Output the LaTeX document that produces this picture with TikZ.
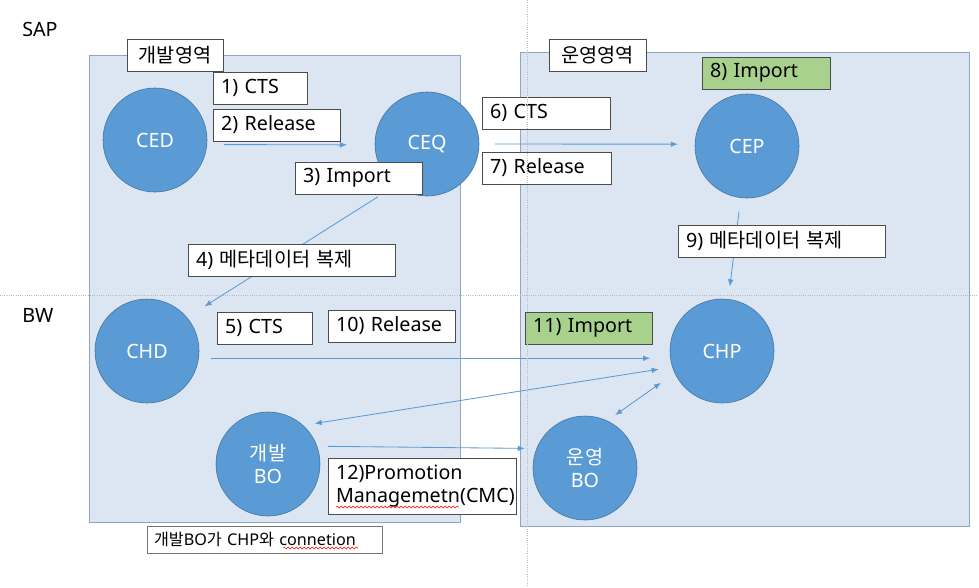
\documentclass[tikz,border=0pt]{standalone}
\usepackage{fontspec}
\setmainfont{Noto Sans}
\newfontfamily\kr{Noto Sans CJK KR}
\usepackage{xcolor}
\usetikzlibrary{arrows.meta,decorations.pathmorphing}
\definecolor{sysblue}{HTML}{5B9BD5}
\definecolor{sysedge}{HTML}{41719C}
\definecolor{zonefill}{HTML}{DCE6F2}
\definecolor{zoneedge}{HTML}{8EA5C4}
\definecolor{importgreen}{HTML}{A9D18E}
\tikzset{
  system/.style={
    shape = circle,
    draw = sysedge,
    fill = sysblue,
    minimum size = 2.6cm,
    inner sep = 0pt,
    outer sep = 0pt,
    text = white,
    align = center,
    font = \fontsize{14}{16}\selectfont
  },
}
\tikzset{
  zone/.style={
    fill = zonefill,
    draw = zoneedge,
    line width = 0.7pt
  },
  tag/.style={
    anchor = north west,
    draw = black!70,
    fill = white,
    inner xsep = 0.2cm,
    inner ysep = 0pt,
    outer sep = 0pt,
    minimum height = 0.8cm,
    align = left,
    font = \fontsize{14}{16.5}\selectfont
  },
  tagok/.style={
    tag,
    fill = importgreen
  },
  zonetitle/.style={
    tag,
    align = center
  },
  flow/.style={
    draw = sysblue,
    line width = 0.6pt,
    -{Latex[length=5pt,width=4pt]}
  },
  flowtwo/.style={
    flow,
    {Latex[length=5pt,width=4pt]}-{Latex[length=5pt,width=4pt]}
  },
  divider/.style={
    gray!55,
    densely dotted,
    line width = 0.6pt
  },
  spell/.style={
    red,
    line width = 0.35pt,
    decorate,
    decoration={snake, amplitude=0.25mm, segment length=1mm}
  }
}

\begin{document}
\begin{tikzpicture}[x=0.025cm, y=-0.025cm]
        \useasboundingbox (0,0) rectangle (979,587);

        % areas
        \draw[zone] (89,55) rectangle (460,522);
        \draw[zone] (520,52) rectangle (969,526);

        \node[font=\fontsize{14}{16}\selectfont] (sap) at (40,29) {SAP};
        \node[font=\fontsize{14}{16}\selectfont] (bw) at (38,315) {BW};

        \node[system] (CED) at (155,140) {CED};
        \node[system] (CEQ) at (427,144) {CEQ};
        \node[system] (CEP) at (747,146) {CEP};
        \node[system] (CHD) at (147,351) {CHD};
        \node[system] (CHP) at (722,351) {CHP};
        \node[system] (devBO) at (268,464) {{\kr 개발}\\BO};
        \node[system] (opBO) at (585,468) {{\kr 운영}\\BO};

        \draw[flow, shorten <=0.43cm, shorten >=0.7cm] (CED.-5) -- (CEQ.181);
        \draw[flow, shorten <=0.4cm, shorten >=0.43cm] (CEQ.0) -- (CEP.178);
        \draw[flow, shorten <=0.525cm, shorten >=0.525cm] (CEQ.233) -- (CHD.40);
        \draw[flow, shorten <=0.35cm, shorten >=0.325cm] (CEP) -- (CHP);
        \draw[flow, shorten <=0.31cm, shorten >=0.51cm] (CHD.-8) -- (CHP.188);
        \draw[flowtwo, shorten <=0.35cm, shorten >=0.3cm] (CHP.198) -- (devBO.48);
        \draw[flowtwo, shorten <=0.425cm, shorten >=0.25cm] (CHP.205) -- (opBO.65);
        \draw[flow, shorten <=0.275cm, shorten >=0.3cm] (devBO.20) -- (opBO.158);

        \node[zonetitle, text width=2.0cm] (devzone) at (127,39) {{\kr 개발영역}};
        \node[zonetitle, text width=2.025cm] (opzone) at (549,39) {{\kr 운영영역}};

        \node[tag, text width=1.95cm] (cts1) at (213,72) {1) CTS};
        \node[tag, text width=2.775cm] (rel2) at (213,109) {2) Release};
        \node[tag, text width=2.775cm] (imp3) at (295,162) {3) Import};
        \node[tag, text width=4.775cm] (meta4) at (188,244) {4) {\kr 메타데이터 복제}};
        \node[tag, text width=1.975cm] (cts5) at (217,312) {5) CTS};
        \node[tag, text width=2.8cm] (cts6) at (482,97) {6) CTS};
        \node[tag, text width=2.825cm] (rel7) at (482,152) {7) Release};
        \node[tagok, text width=2.8cm] (imp8) at (702,57) {8) Import};
        \node[tag, text width=4.775cm] (meta9) at (678,225) {9) {\kr 메타데이터 복제}};
        \node[tag, text width=2.775cm] (rel10) at (328,310) {10) Release};
        \node[tagok, text width=2.775cm] (imp11) at (525,312) {11) Import};
        \node[tag, text width=4.3cm, minimum height=1.4cm] (cmc12) at (328,458) {12)Promotion\\Managemetn(CMC)};
        \node[tag, draw=black!55, text width=5.525cm, minimum height=0.675cm, inner xsep=0.175cm,
              font=\fontsize{11.5}{13}\selectfont] (note) at (147,526) {{\kr 개발}BO{\kr 가} CHP{\kr 와} connetion};

        \draw[spell] (336,507) -- (459,507);
        \draw[spell] (283,548) -- (358,548);

        % SAP / BW and dev / prod split
        \draw[divider] (0,295) -- (979,295);
        \draw[divider] (527,0) -- (527,587);
\end{tikzpicture}
\end{document}
